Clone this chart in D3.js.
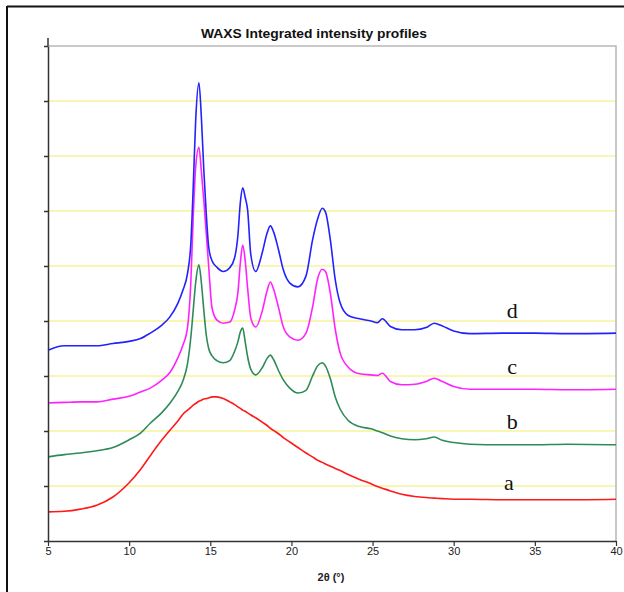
<!DOCTYPE html>
<html>
<head>
<meta charset="utf-8">
<script src="https://cdn.jsdelivr.net/npm/d3@7"></script>
<style>
  html, body { margin: 0; padding: 0; background: #fff; }
  svg { display: block; }
</style>
</head>
<body>
<svg id="chart" width="624" height="592"></svg>
<script>
// 2θ sampling positions (degrees) shared by all four profiles
const angles = [5, 6, 7, 8, 9, 10, 10.7, 11.3, 12, 12.5, 13, 13.3, 13.6, 13.8, 13.95, 14.1, 14.3, 14.45, 14.6, 14.75, 14.9, 15.1, 15.4, 15.8, 16.2, 16.5, 16.7, 16.85, 17.0, 17.15, 17.3, 17.5, 17.8, 18.2, 18.5, 18.7, 18.9, 19.2, 19.5, 19.9, 20.4, 20.9, 21.3, 21.6, 21.9, 22.1, 22.4, 22.7, 23.0, 23.5, 24.2, 24.9, 25.3, 25.6, 26.1, 26.8, 27.6, 28.3, 28.8, 29.3, 30.0, 31.0, 33, 35, 37, 40];

// Integrated intensity (arbitrary units, stacked with offsets)
const profileA = [53, 54, 58, 65, 80, 106, 130, 155, 183, 201, 218, 230, 238, 243, 247, 250, 254, 256, 258, 259, 260, 262, 262, 259, 253, 248, 244, 241, 238, 236, 233, 229, 224, 216, 210, 205, 201, 195, 188, 180, 170, 160, 153, 147, 143, 140, 136, 132, 128, 121, 112, 104, 99, 96, 91, 85, 81, 79, 78, 77, 76, 76, 75, 75, 75, 76];
const profileB = [153, 157, 160, 164, 170, 184, 196, 214, 233, 250, 272, 290, 323, 370, 420, 470, 502, 470, 420, 375, 350, 337, 328, 324, 328, 345, 362, 380, 387, 362, 335, 312, 302, 315, 332, 338, 330, 310, 293, 278, 269, 274, 300, 318, 324, 318, 295, 262, 240, 219, 208, 204, 200, 197, 191, 186, 184, 186, 189, 183, 179, 176, 175, 175, 176, 175];
const profileC = [251, 252, 253, 253, 258, 263, 271, 278, 292, 306, 333, 355, 389, 470, 590, 680, 716, 672, 620, 560, 500, 425, 402, 396, 398, 420, 451, 505, 538, 510, 460, 405, 389, 418, 455, 471, 458, 425, 389, 371, 365, 378, 425, 475, 494, 490, 450, 385, 342, 316, 304, 302, 301, 305, 290, 284, 285, 290, 296, 290, 281, 276, 276, 276, 275, 276];
const profileD = [347, 355, 355, 355, 359, 363, 368, 378, 392, 407, 432, 455, 487, 540, 644, 765, 833, 771, 675, 596, 535, 510, 498, 490, 497, 515, 555, 615, 642, 625, 602, 520, 490, 524, 560, 573, 562, 530, 493, 469, 462, 482, 547, 584, 605, 598, 547, 475, 433, 410, 404, 400, 397, 404, 390, 384, 384, 388, 396, 391, 382, 377, 378, 378, 377, 378];

const seriesNames = ["a", "b", "c", "d"];
const seriesColors = ["#ff1a1a", "#2e8b57", "#ff22ff", "#2222ff"];
const seriesValues = [profileA, profileB, profileC, profileD];
// where each curve's letter sits (2θ, intensity)
const labelAngles = [33.4, 33.6, 33.6, 33.6];
const labelLevels = [93, 203, 304, 406];

const xTicks = [5, 10, 15, 20, 25, 30, 35, 40];
const yTicks = [0, 100, 200, 300, 400, 500, 600, 700, 800, 900];

const svg = d3.select("#chart");
const plotLeft = 48, plotRight = 616, plotTop = 46, plotBottom = 541;

const x = d3.scaleLinear().domain([5, 40]).range([plotLeft, plotRight]);
const y = d3.scaleLinear().domain([0, 900]).range([plotBottom, plotTop]);

// outer frame (top and left edges)
svg.append("line").attr("x1", 7).attr("x2", 624).attr("y1", 6.5).attr("y2", 6.5)
  .attr("stroke", "#111").attr("stroke-width", 2);
svg.append("line").attr("x1", 7).attr("x2", 7).attr("y1", 6).attr("y2", 592)
  .attr("stroke", "#111").attr("stroke-width", 2);

// horizontal gridlines
svg.append("g").selectAll("line")
  .data(yTicks.filter(v => v > 0 && v < 900))
  .join("line")
  .attr("x1", plotLeft).attr("x2", plotRight)
  .attr("y1", d => y(d)).attr("y2", d => y(d))
  .attr("stroke", "#f7f29a").attr("stroke-width", 1.5);

// plot-area border (top and right)
svg.append("path")
  .attr("d", `M${plotLeft},${y(900)}H${plotRight}V${plotBottom}`)
  .attr("fill", "none").attr("stroke", "#b8b8b8").attr("stroke-width", 1.5);

// profiles
const line = d3.line()
  .x((d, i) => x(angles[i]))
  .y(d => y(d))
  .curve(d3.curveMonotoneX);

svg.append("g").selectAll("path")
  .data(seriesValues)
  .join("path")
  .attr("d", d => line(d))
  .attr("fill", "none")
  .attr("stroke", (d, i) => seriesColors[i])
  .attr("stroke-width", 1.6)
  .attr("stroke-linejoin", "round");

// curve letters
svg.append("g").selectAll("text")
  .data(seriesNames)
  .join("text")
  .attr("x", (d, i) => x(labelAngles[i]))
  .attr("y", (d, i) => y(labelLevels[i]))
  .attr("text-anchor", "middle")
  .attr("font-family", "'Liberation Serif', 'Times New Roman', serif")
  .attr("font-size", 22)
  .attr("fill", "#111")
  .text(d => d);

// axes
const xAxis = svg.append("g")
  .attr("transform", `translate(0,${plotBottom})`)
  .call(d3.axisBottom(x).tickValues(xTicks).tickSize(5).tickSizeOuter(0).tickFormat(d3.format("d")));
xAxis.select(".domain").attr("stroke", "#333").attr("stroke-width", 1.5);
xAxis.selectAll(".tick line").attr("stroke", "#333").attr("stroke-width", 1.2);
xAxis.selectAll(".tick text")
  .attr("font-family", "'Liberation Sans', Arial, sans-serif")
  .attr("font-size", 11).attr("fill", "#222").attr("y", 6).attr("dy", "0.71em");

const yAxis = svg.append("g")
  .attr("transform", `translate(${plotLeft},0)`)
  .call(d3.axisLeft(y).tickValues(yTicks).tickSize(4).tickSizeOuter(0).tickFormat(""));
yAxis.select(".domain").attr("stroke", "#333").attr("stroke-width", 1.5);
yAxis.selectAll(".tick line").attr("stroke", "#333").attr("stroke-width", 1.5);
svg.append("line").attr("x1", plotLeft).attr("x2", plotLeft).attr("y1", 38).attr("y2", plotTop)
  .attr("stroke", "#333").attr("stroke-width", 1.5);

// titles
svg.append("text")
  .attr("x", 314).attr("y", 38)
  .attr("text-anchor", "middle")
  .attr("font-family", "'Liberation Sans', Arial, sans-serif")
  .attr("font-weight", "bold").attr("font-size", 13)
  .attr("textLength", 226).attr("lengthAdjust", "spacingAndGlyphs")
  .attr("fill", "#111")
  .text("WAXS Integrated intensity profiles");

svg.append("text")
  .attr("x", 331).attr("y", 581)
  .attr("text-anchor", "middle")
  .attr("font-family", "'Liberation Sans', Arial, sans-serif")
  .attr("font-weight", "bold").attr("font-size", 11)
  .attr("fill", "#222")
  .text("2θ (°)");
</script>
</body>
</html>
